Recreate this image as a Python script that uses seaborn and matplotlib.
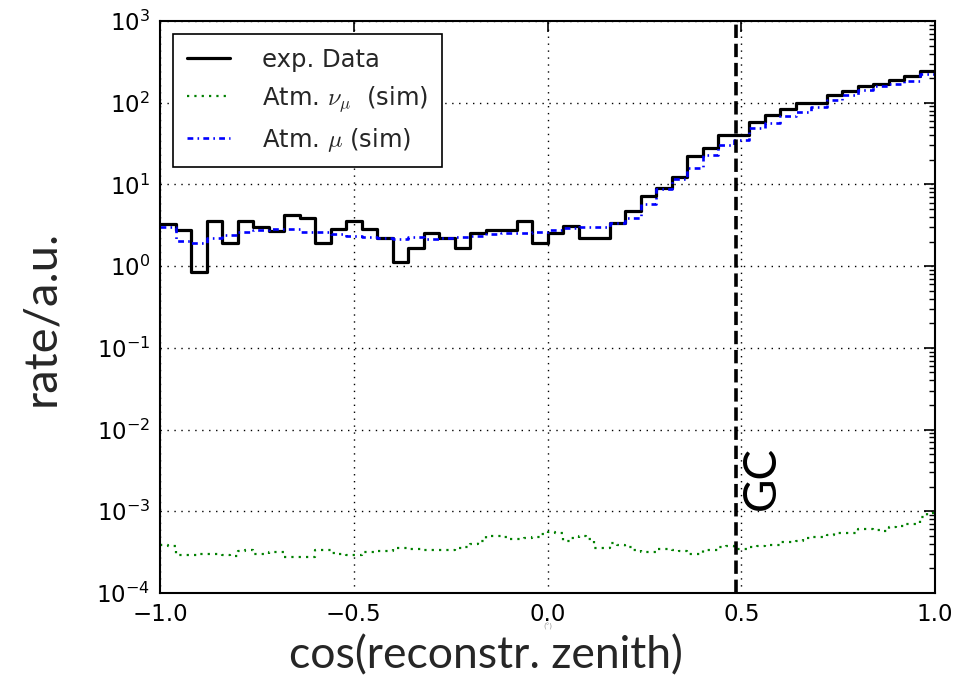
import numpy as np
import pandas as pd
import matplotlib
matplotlib.use("Agg")
import matplotlib.pyplot as plt
import seaborn as sns

# ---- data ----
x_min, x_max = -1.0, 1.0
n_bins_main = 50
n_bins_numu = 100

exp_data = [3.24, 2.76, 0.85, 3.58, 1.93, 3.58, 3.03, 2.70, 4.21, 3.83,
            1.93, 2.81, 3.58, 2.81, 2.22, 1.11, 1.67, 2.51, 2.22, 1.67,
            2.51, 2.76, 2.76, 3.58, 1.93, 2.51, 3.11, 2.22, 2.22, 3.33,
            4.71, 7.19, 9.08, 12.2, 22.4, 27.6, 40.1, 40.1, 58.4, 70.5,
            83.3, 98.0, 98.0, 124.0, 139.0, 158.0, 168.0, 189.0, 214.0, 244.0]

atm_mu = [3.03, 2.05, 1.93, 2.22, 2.39, 2.63, 2.76, 2.81, 2.81, 2.63,
          2.63, 2.44, 2.35, 2.28, 2.22, 2.12, 2.28, 2.12, 2.22, 2.28,
          2.35, 2.44, 2.51, 2.57, 2.63, 2.76, 2.89, 3.03, 3.03, 3.33,
          3.83, 5.74, 8.70, 11.8, 16.1, 22.8, 30.3, 34.8, 48.4, 56.8,
          68.3, 77.1, 89.3, 108.0, 124.0, 145.0, 158.0, 170.0, 186.0, 227.0]

atm_numu = [3.91, 3.73, 2.95, 2.95, 2.90, 3.01, 3.03, 3.03, 2.90, 2.81,
            3.24, 3.33, 3.03, 3.01, 3.18, 3.18, 2.76, 2.76, 2.76, 2.76,
            3.40, 3.40, 3.09, 3.01, 2.95, 2.95, 3.18, 3.18, 3.24, 3.24,
            3.56, 3.56, 3.46, 3.46, 3.33, 3.33, 3.33, 3.33, 3.56, 3.63,
            3.98, 4.30, 5.04, 5.04, 4.81, 4.58, 4.58, 4.71, 4.81, 5.28,
            5.54, 5.43, 4.38, 4.71, 5.04, 4.64, 3.56, 3.56, 4.09, 3.90,
            3.66, 3.40, 3.18, 3.18, 3.46, 3.46, 3.40, 3.24, 3.03, 3.03,
            3.40, 3.40, 3.66, 3.73, 3.50, 3.49, 3.63, 3.73, 3.91, 3.91,
            4.18, 4.18, 4.38, 4.72, 4.85, 4.85, 5.18, 5.43, 5.43, 5.43,
            6.08, 6.08, 5.97, 5.69, 6.37, 6.55, 7.06, 7.06, 8.45, 9.54]
numu_scale = 1e-4

gc_position = 0.486
gc_label = "GC"
x_ticks = [-1.0, -0.5, 0.0, 0.5, 1.0]
x_label = "cos(reconstr. zenith)"
y_label = "rate/a.u."
labels = ["exp. Data", r"Atm. $\nu_\mu$  (sim)", r"Atm. $\mu$ (sim)"]

# ---- style ----
sns.set_style("white")
plt.rcParams.update({
    "font.family": ["DejaVu Sans"],
    "mathtext.fontset": "cm",
    "xtick.direction": "in",
    "ytick.direction": "in",
    "xtick.top": True,
    "ytick.right": True,
    "xtick.major.size": 8,
    "ytick.major.size": 8,
    "ytick.minor.size": 4,
    "xtick.major.width": 1.2,
    "ytick.major.width": 1.2,
    "ytick.minor.width": 1.0,
    "axes.edgecolor": "black",
    "axes.linewidth": 1.5,
    "xtick.color": "black",
    "ytick.color": "black",
})

fig = plt.figure(figsize=(9.63, 6.79), dpi=100)
ax = fig.add_axes([160 / 963, 1 - 593 / 679, 775 / 963, 572 / 679])

edges_main = list(np.linspace(x_min, x_max, n_bins_main + 1))
edges_numu = list(np.linspace(x_min, x_max, n_bins_numu + 1))
centers_main = [0.5 * (a + b) for a, b in zip(edges_main[:-1], edges_main[1:])]
centers_numu = [0.5 * (a + b) for a, b in zip(edges_numu[:-1], edges_numu[1:])]

df_exp = pd.DataFrame({"x": centers_main, "w": exp_data})
df_mu = pd.DataFrame({"x": centers_main, "w": atm_mu})
df_numu = pd.DataFrame({"x": centers_numu, "w": np.array(atm_numu) * numu_scale})

sns.histplot(data=df_exp, x="x", weights="w", bins=edges_main, element="step",
             fill=False, color="black", linewidth=2.3, ax=ax, label=labels[0])
sns.histplot(data=df_numu, x="x", weights="w", bins=edges_numu, element="step",
             fill=False, color="green", linewidth=1.6,
             linestyle=(0, (1, 2.3)), ax=ax, label=labels[1])
sns.histplot(data=df_mu, x="x", weights="w", bins=edges_main, element="step",
             fill=False, color="blue", linewidth=1.9,
             linestyle=(0, (2.2, 1.6, 0.6, 1.6)), ax=ax, label=labels[2])

ax.set_yscale("log")
ax.set_xlim(x_min, x_max)
ax.set_ylim(1e-4, 1e3)
ax.set_xticks(x_ticks)
ax.xaxis.set_minor_locator(matplotlib.ticker.NullLocator())
ax.tick_params(axis="both", which="major", labelsize=16.5, pad=7)
ax.grid(True, which="major", color="black", linestyle=(0, (1, 4)),
        linewidth=1.0)
for s in ax.spines.values():
    s.set_visible(True)

ax.axvline(gc_position, color="black", linestyle="--", linewidth=2.6)
ax.text(0.5, 1.05e-3, gc_label, rotation=90, ha="left", va="bottom",
        fontsize=33, family="Lato", color="black")

ax.set_xlabel("")
ax.set_ylabel("")
ax.xaxis.label.set_visible(False)
ax.yaxis.label.set_visible(False)
fig.text(486 / 963, 1 - 668 / 679, x_label, fontsize=32, family="Lato",
         ha="center", va="baseline")
fig.text(41 / 963, 1 - 318 / 679, y_label, fontsize=34, family="Lato",
         rotation=90, ha="center", va="center")

leg = ax.legend(loc="upper left", fontsize=17.5, frameon=True, fancybox=False,
                framealpha=1, edgecolor="black", handlelength=1.8,
                handletextpad=1.3, labelspacing=0.5, borderpad=0.55,
                borderaxespad=0.55)
leg.get_frame().set_linewidth(1.2)

fig.text(548 / 963, 1 - 626 / 679, "(°)", fontsize=5, color="#999999",
         ha="center", va="center")

fig.savefig("out.png", dpi=100)
